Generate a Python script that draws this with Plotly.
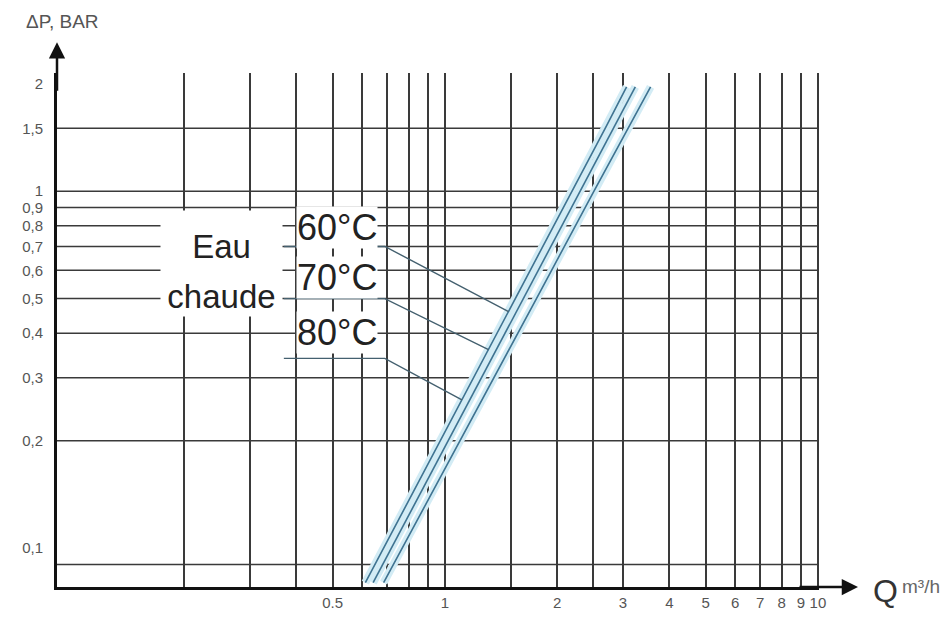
import numpy as np
import plotly.graph_objects as go

# ---- data (log-log) ----
dp_points = [0.08, 0.2, 0.5, 1.0, 1.5, 1.96]          # ΔP, bar
q_curve_60 = [0.612, 0.973, 1.545, 2.19, 2.69, 3.07]  # Q m3/h
q_curve_70 = [0.642, 1.02, 1.62, 2.30, 2.83, 3.24]
q_curve_80 = [0.685, 1.10, 1.76, 2.51, 3.10, 3.56]
curve_names = ["60°C", "70°C", "80°C"]

x_grid = [0.2, 0.3, 0.4, 0.5, 0.6, 0.7, 0.8, 0.9, 1, 1.5, 2, 2.5, 3, 4, 5, 6, 7, 8, 9, 10]
x_labels = {0.5: "0.5", 1: "1", 2: "2", 3: "3", 4: "4", 5: "5", 6: "6", 7: "7", 8: "8", 9: "9", 10: "10"}
y_grid = [0.09, 0.2, 0.3, 0.4, 0.5, 0.6, 0.7, 0.8, 0.9, 1, 1.5]
y_tick_vals = [0.1, 0.2, 0.3, 0.4, 0.5, 0.6, 0.7, 0.8, 0.9, 1, 1.5, 2]
y_tick_text = ["0,1", "0,2", "0,3", "0,4", "0,5", "0,6", "0,7", "0,8", "0,9", "1", "1,5", "2"]

# label anchors (Q, ΔP) and leader targets (ΔP on the first curve)
label_pos = [(0.515, 0.791), (0.515, 0.574), (0.515, 0.401)]
leader_level = [0.7, 0.5, 0.34]
leader_x = [0.37, 0.69]
leader_target_dp = [0.46, 0.36, 0.26]

x_range = [-1.040, 1.003]
y_range = [-1.109, 0.331]

GRID = "#3a3a3a"
CURVE = "#3f7391"
HALO = "#d3ecf5"
FONT = "Liberation Sans, Arial, sans-serif"

# page body has an 8px margin: shift the figure so the plot lands where the reference has it
OFF = 8
W, H = 949 - OFF, 623 - OFF
L, T = 57 - OFF, 73 - OFF
PW, PH = 762, 517

fig = go.Figure()

# horizontal grid lines
gx, gy = [], []
for v in y_grid:
    gx += [10 ** x_range[0], 10 ** x_range[1], None]
    gy += [v, v, None]
fig.add_trace(go.Scatter(x=gx, y=gy, mode="lines", line=dict(color=GRID, width=1.5),
                         hoverinfo="skip", showlegend=False))

curves = [q_curve_60, q_curve_70, q_curve_80]
for q in curves:
    fig.add_trace(go.Scatter(x=q, y=dp_points, mode="lines", line=dict(color=HALO, width=8),
                             hoverinfo="skip", showlegend=False))
for q, name in zip(curves, curve_names):
    fig.add_trace(go.Scatter(x=q, y=dp_points, mode="lines", line=dict(color=CURVE, width=1.6),
                             name=name, showlegend=False))

# leaders
for lvl, tdp in zip(leader_level, leader_target_dp):
    tq = 10 ** np.interp(np.log10(tdp), np.log10(dp_points), np.log10(q_curve_60))
    fig.add_trace(go.Scatter(x=[leader_x[0], leader_x[1], tq], y=[lvl, lvl, tdp], mode="lines",
                             line=dict(color="#44606f", width=1.4), hoverinfo="skip",
                             showlegend=False))


def px_x(p):
    return (p - 57) / PW


def px_y(p):
    return (590 - p) / PH


def paper_note(xp, yp, text, size, color, **kw):
    d = dict(x=px_x(xp), y=px_y(yp), xref="paper", yref="paper", text=text,
             showarrow=False, xanchor="center", yanchor="middle",
             font=dict(family=FONT, size=size, color=color))
    d.update(kw)
    return d


annotations = []
# "Eau chaude" block on a white box
annotations.append(paper_note(221, 247, "Eau", 33, "#222", bgcolor="white",
                              width=121, height=70, borderpad=0))
annotations.append(paper_note(221, 297, "chaude", 33, "#222", bgcolor="white",
                              width=121, height=40, borderpad=0))
for (q, dp), name in zip(label_pos, curve_names):
    annotations.append(dict(x=np.log10(q), y=np.log10(dp), xref="x", yref="y", text=name,
                            showarrow=False, bgcolor="white", borderpad=0,
                            font=dict(family=FONT, size=36, color="#222")))

# axis arrows
annotations.append(dict(x=px_x(57), y=px_y(42), xref="paper", yref="paper", text="",
                        showarrow=True, arrowhead=2, arrowsize=1.3, arrowwidth=2.5,
                        arrowcolor="#111", ax=0, ay=50))
annotations.append(dict(x=px_x(858), y=px_y(590), xref="paper", yref="paper", text="",
                        showarrow=True, arrowhead=2, arrowsize=1.3, arrowwidth=2.5,
                        arrowcolor="#111", ax=-60, ay=0))
# axis titles
annotations.append(paper_note(62, 21, "ΔP, BAR", 19, "#555"))
annotations.append(paper_note(885, 594, "Q", 32, "#333"))
annotations.append(paper_note(921, 589, "m³/h", 19, "#666"))

fig.update_layout(
    width=W, height=H,
    margin=dict(l=L, r=W - L - PW, t=T, b=H - T - PH),
    paper_bgcolor="white", plot_bgcolor="white",
    showlegend=False,
    annotations=annotations,
    xaxis=dict(type="log", range=x_range, tickmode="array", tickvals=x_grid,
               ticktext=[x_labels.get(v, "") for v in x_grid],
               showgrid=True, gridcolor=GRID, gridwidth=1.5, ticks="",
               showline=True, linecolor="#111", linewidth=3, zeroline=False,
               tickfont=dict(family=FONT, size=15, color="#555")),
    yaxis=dict(type="log", range=y_range, tickmode="array", tickvals=y_tick_vals,
               ticktext=y_tick_text, showgrid=False, ticks="",
               showline=True, linecolor="#111", linewidth=3, zeroline=False,
               ticklabelstandoff=8,
               tickfont=dict(family=FONT, size=15, color="#555")),
)

fig.write_html("out.html")
